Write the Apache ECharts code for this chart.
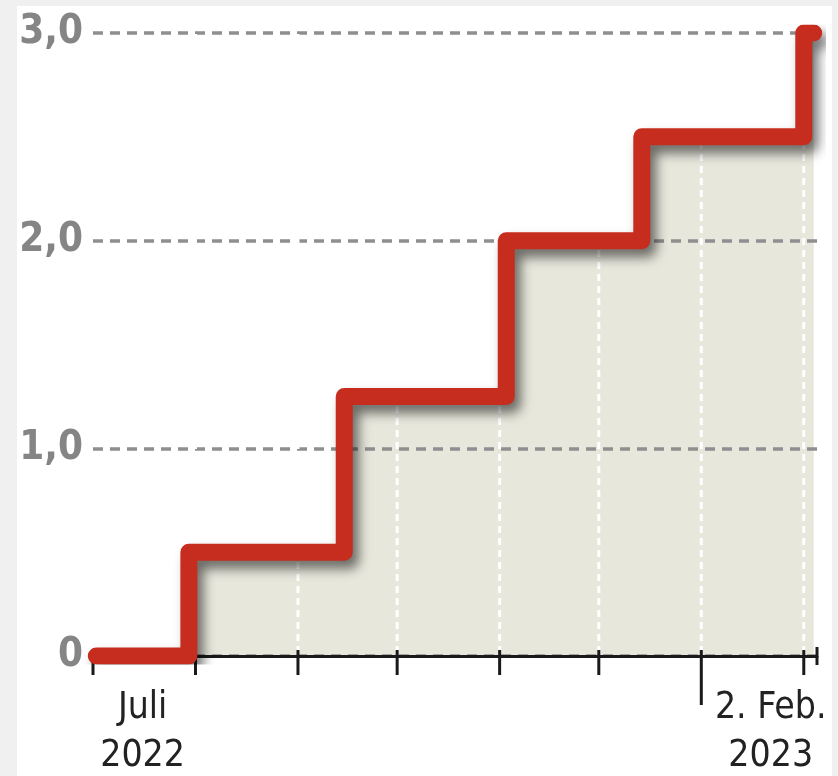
<!DOCTYPE html>
<html lang="de">
<head>
<meta charset="UTF-8">
<title>Leitzins</title>
<script src="https://cdn.jsdelivr.net/npm/echarts@6/dist/echarts.min.js"></script>
<style>
    body { margin: 0; background: #f0f0f0; }
    #main { position: absolute; left: 17px; top: 6px; width: 815px; height: 770px; background: #fff; }
</style>
</head>
<body>
<div id="main"></div>

<script type="text/javascript">

    // Stufen des Zinssatzes
    var stepDates = ['2022-07-02', '2022-07-30', '2022-09-15', '2022-11-03', '2022-12-14', '2023-02-01', '2023-02-04'];
    var stepValues = [0, 0.5, 1.25, 2.0, 2.5, 3.0, 3.0];

    // Achse: Monatsstriche
    var tickDates = ['2022-07-01', '2022-08-01', '2022-09-01', '2022-10-01', '2022-11-01',
        '2022-12-01', '2023-01-01', '2023-02-01', '2023-02-05'];
    var tickKinds = ['month', 'month', 'month', 'month', 'month', 'month', 'year', 'month', 'end'];
    var gridDates = ['2022-08-01', '2022-09-01', '2022-10-01', '2022-11-01', '2022-12-01', '2023-01-01', '2023-02-01'];

    var yTicks = [0, 1, 2, 3];
    var yTickLabels = ['0', '1,0', '2,0', '3,0'];

    var xLabelDates = ['2022-07-16', '2023-01-22'];
    var xLabelLine1 = ['Juli', '2. Feb.'];
    var xLabelLine2 = ['2022', '2023'];

    var FONT = '"DejaVu Sans Condensed", "DejaVu Sans", sans-serif';

    var pairs = function (a, b) {
        var res = [];
        for (var i = 0; i < a.length; i++) res.push([a[i], b[i]]);
        return res;
    };

    var myChart = echarts.init(document.getElementById('main'));

    var option = {
        animation: false,
        grid: {left: 76, right: 15, top: 27, bottom: 120, outerBoundsMode: 'none', containLabel: false},
        xAxis: {
            type: 'time',
            min: '2022-07-01',
            max: '2023-02-05',
            z: 3,
            axisLine: {lineStyle: {color: '#1a1a1a', width: 3}},
            axisTick: {show: false},
            axisLabel: {show: false},
            splitLine: {show: false}
        },
        yAxis: {
            type: 'value',
            min: 0,
            max: 3,
            interval: 1,
            z: 2,
            axisLine: {show: false},
            axisTick: {show: false},
            axisLabel: {
                margin: 10,
                color: '#858585',
                fontSize: 40,
                fontWeight: 'bold',
                fontFamily: FONT,
                formatter: function (v) {
                    return yTickLabels[yTicks.indexOf(v)];
                }
            },
            splitLine: {lineStyle: {color: '#8f8f8f', width: 3.5, type: [10, 7]}}
        },
        series: [
            {
                // Flaeche unter der Treppe
                type: 'line',
                step: 'end',
                z: 1,
                symbol: 'none',
                data: pairs(stepDates, stepValues),
                lineStyle: {width: 0},
                areaStyle: {color: '#e8e7dc', opacity: 1}
            },
            {
                // weisse gestrichelte Monatslinien
                type: 'custom',
                z: 3,
                data: gridDates.map(function (d) { return [d]; }),
                renderItem: function (params, api) {
                    var p0 = api.coord([api.value(0), 0]);
                    var p1 = api.coord([api.value(0), 3]);
                    return {
                        type: 'line',
                        shape: {x1: p0[0], y1: p0[1] - 3, x2: p1[0], y2: p1[1]},
                        style: {stroke: '#fff', lineWidth: 3, lineDash: [7, 5]}
                    };
                }
            },
            {
                // Striche an der x-Achse
                type: 'custom',
                z: 3,
                data: pairs(tickDates, tickKinds),
                renderItem: function (params, api) {
                    var p = api.coord([api.value(0), 0]);
                    var kind = tickKinds[params.dataIndex];
                    var up = kind === 'end' ? 9 : 6;
                    var down = kind === 'year' ? 49 : (kind === 'end' ? 9 : 19);
                    return {
                        type: 'line',
                        shape: {x1: p[0], y1: p[1] - up, x2: p[0], y2: p[1] + down},
                        style: {stroke: '#1a1a1a', lineWidth: 3}
                    };
                }
            },
            {
                // Beschriftung der x-Achse
                type: 'custom',
                z: 3,
                data: xLabelDates.map(function (d) { return [d]; }),
                renderItem: function (params, api) {
                    var p = api.coord([api.value(0), 0]);
                    var i = params.dataIndex;
                    var st = function (txt, y) {
                        return {
                            type: 'text',
                            style: {
                                text: txt, x: p[0], y: y,
                                fill: '#222', font: '37px ' + FONT,
                                textAlign: 'center', textVerticalAlign: 'top'
                            }
                        };
                    };
                    return {
                        type: 'group',
                        children: [st(xLabelLine1[i], p[1] + 34), st(xLabelLine2[i], p[1] + 82)]
                    };
                }
            },
            {
                // rote Treppenlinie
                type: 'line',
                step: 'end',
                z: 5,
                symbol: 'none',
                data: pairs(stepDates, stepValues),
                lineStyle: {
                    color: '#c62d1f',
                    width: 17,
                    cap: 'round',
                    join: 'round',
                    shadowColor: 'rgba(0,0,0,0.55)',
                    shadowBlur: 12,
                    shadowOffsetX: 6,
                    shadowOffsetY: 8
                }
            }
        ]
    };

    myChart.setOption(option);

</script>
</body>
</html>
